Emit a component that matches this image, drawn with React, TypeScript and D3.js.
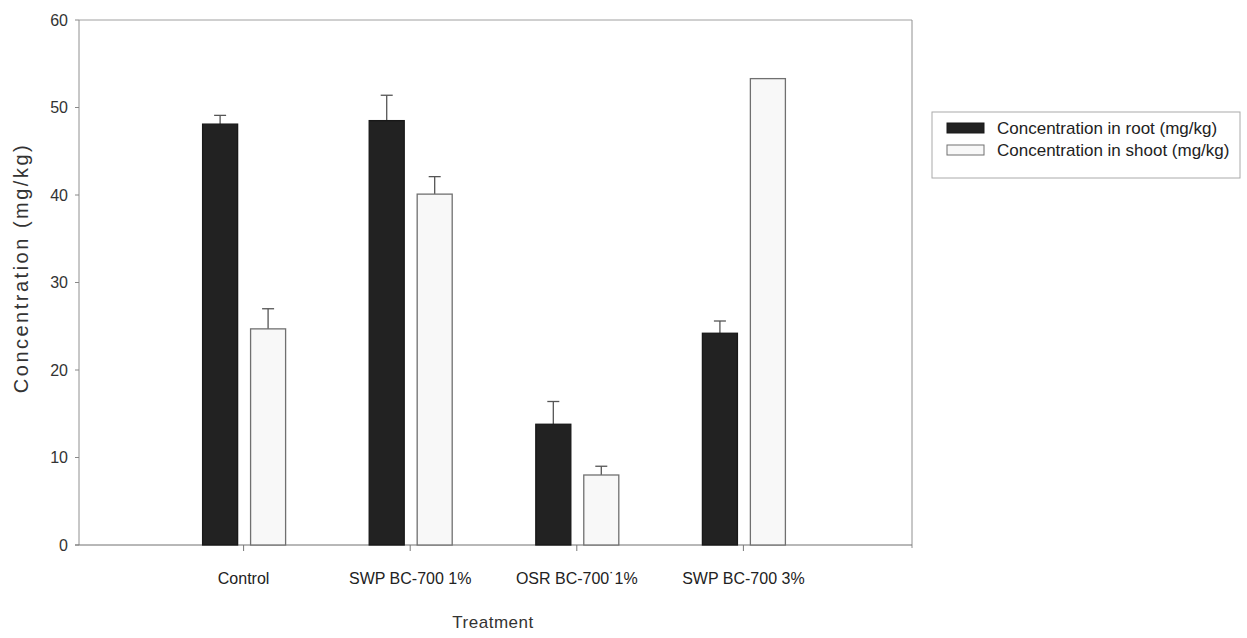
import React from 'react';
import * as d3 from 'd3';

const categories = ['Control', 'SWP BC-700 1%', 'OSR BC-700\u02D91%', 'SWP BC-700 3%'];
const seriesKeys = ['root', 'shoot'];
const seriesNames = ['Concentration in root (mg/kg)', 'Concentration in shoot (mg/kg)'];
const rootValues = [48.1, 48.5, 13.8, 24.2];
const rootErrors = [1.0, 2.9, 2.6, 1.4];
const shootValues = [24.7, 40.1, 8.0, 53.3];
const shootErrors = [2.3, 2.0, 1.0, 0];
const yTicks = [0, 10, 20, 30, 40, 50, 60];

const FONT = '"Liberation Sans", Arial, sans-serif';

export default function App() {
  const W = 1247, H = 638;
  const left = 79, right = 912, top = 20, bottom = 545;
  const x = d3.scalePoint<string>().domain(categories).range([left - 2, right - 2]).padding(1);
  const inner = d3.scaleBand<string>().domain(seriesKeys).range([-41, 42]).paddingInner(0.27);
  const y = d3.scaleLinear().domain([0, 60]).range([bottom, top]);
  const values: Record<string, number[]> = { root: rootValues, shoot: shootValues };
  const errors: Record<string, number[]> = { root: rootErrors, shoot: shootErrors };
  const fills: Record<string, string> = { root: '#222222', shoot: '#f8f8f8' };
  const strokes: Record<string, string> = { root: '#181818', shoot: '#707070' };
  const bw = inner.bandwidth();

  return (
    <svg width={W} height={H} style={{ position: 'fixed', left: 0, top: 0, background: '#fff' }} fontFamily={FONT}>
      {/* frame */}
      <line x1={left} x2={right} y1={top} y2={top} stroke="#a0a0a0" strokeWidth={1} />
      <line x1={right} x2={right} y1={top} y2={bottom + 3} stroke="#909090" strokeWidth={1} />
      <line x1={left} x2={left} y1={top} y2={bottom} stroke="#909090" strokeWidth={1} />
      <line x1={left - 4} x2={right} y1={bottom} y2={bottom} stroke="#707070" strokeWidth={1} />
      {/* y ticks */}
      {yTicks.map(t => (
        <g key={t}>
          <line x1={left - 4} x2={left} y1={y(t)} y2={y(t)} stroke="#888" />
          <text x={left - 11} y={y(t)} textAnchor="end" dominantBaseline="central" fontSize={16} fill="#333">{t}</text>
        </g>
      ))}
      {/* x ticks */}
      {categories.map(c => (
        <line key={c} x1={x(c)} x2={x(c)} y1={bottom} y2={bottom + 6} stroke="#777" />
      ))}
      {/* bars */}
      {categories.map((c, i) => (
        <g key={c}>
          {seriesKeys.map(k => {
            const bx = (x(c) as number) + (inner(k) as number);
            const v = values[k][i];
            const e = errors[k][i];
            const cx = bx + bw / 2;
            return (
              <g key={k}>
                {e > 0 && (
                  <g stroke="#555" strokeWidth={1.3}>
                    <line x1={cx} x2={cx} y1={y(v)} y2={y(v + e)} />
                    <line x1={cx - 6} x2={cx + 6} y1={y(v + e)} y2={y(v + e)} />
                  </g>
                )}
                <rect x={bx} y={y(v)} width={bw} height={bottom - y(v)} fill={fills[k]} stroke={strokes[k]} strokeWidth={1.3} />
              </g>
            );
          })}
        </g>
      ))}
      {/* x labels */}
      {categories.map(c => (
        <text key={c} x={x(c)} y={578} textAnchor="middle" dominantBaseline="central" fontSize={16} fill="#222">{c}</text>
      ))}
      <text x={493} y={622} textAnchor="middle" dominantBaseline="central" fontSize={17} letterSpacing={0.5} fill="#333">Treatment</text>
      <text transform={`translate(21,268) rotate(-90)`} textAnchor="middle" dominantBaseline="central" fontSize={20} letterSpacing={2.5} fill="#333">Concentration (mg/kg)</text>
      {/* legend */}
      <rect x={932} y={112} width={308} height={66} fill="#fff" stroke="#aaa" strokeWidth={1} />
      {seriesKeys.map((k, i) => (
        <g key={k}>
          <rect x={947} y={123 + i * 22} width={37} height={10} fill={fills[k]} stroke={strokes[k]} strokeWidth={1} />
          <text x={997} y={128 + i * 22} dominantBaseline="central" fontSize={17} fill="#222">{seriesNames[i]}</text>
        </g>
      ))}
    </svg>
  );
}
